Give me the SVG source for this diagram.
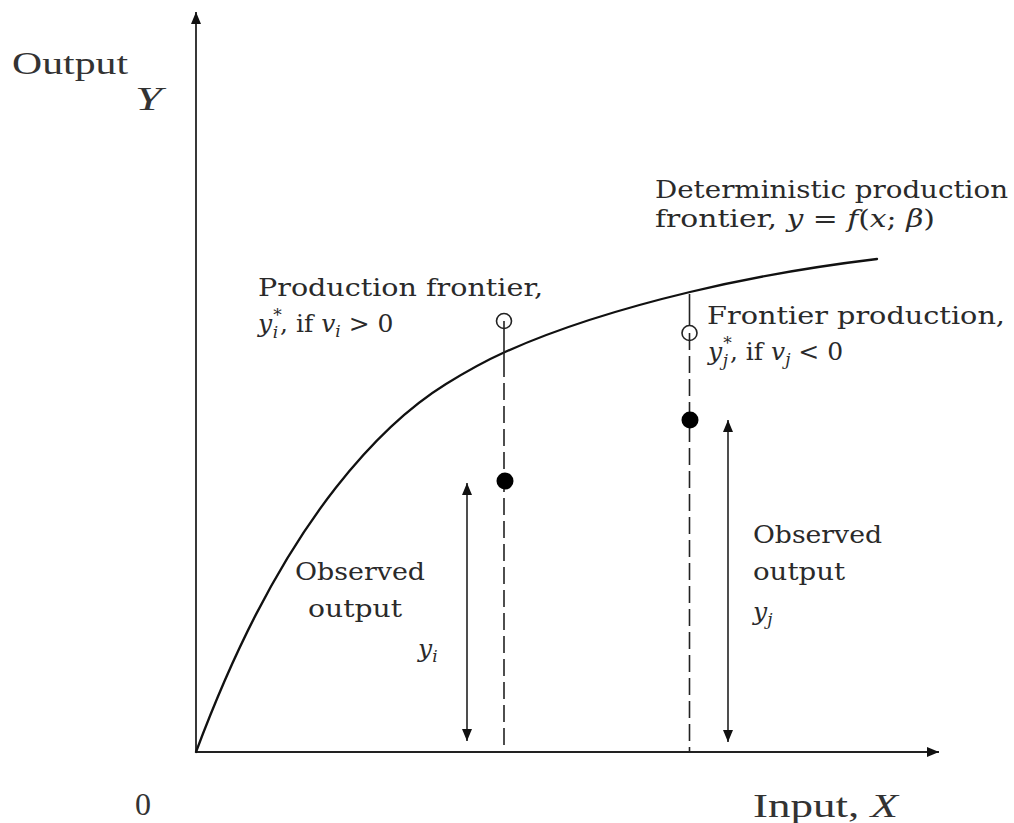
<svg xmlns="http://www.w3.org/2000/svg" width="1014" height="823" viewBox="0 0 1014 823">
<style>
.bg{fill:#ffffff}
.axis{stroke:#222;stroke-width:1.8;fill:none}
.curve{stroke:#111;stroke-width:2.3;fill:none;stroke-linejoin:round;stroke-linecap:round}
.dash{stroke:#222;stroke-width:1.6;fill:none;stroke-dasharray:17 6}
.solid{stroke:#222;stroke-width:1.6;fill:none}
.dbl{stroke:#222;stroke-width:1.6;fill:none}
.open{fill:#fff;stroke:#222;stroke-width:1.6}
.filled{fill:#000}
.tm{font-family:"Liberation Serif","Times New Roman",serif;fill:#333}
.cm{font-family:"DejaVu Serif","Liberation Serif",serif;font-size:25px;fill:#2a2a2a}
.mi{font-style:italic}
.sm{font-size:17px}
</style>
<defs>
<marker id="ah" viewBox="0 0 12 10" refX="12" refY="5" markerWidth="12" markerHeight="10" markerUnits="userSpaceOnUse" orient="auto-start-reverse">
<path d="M0,0 L12,5 L0,10 Z" fill="#111"/>
</marker>
</defs>
<rect class="bg" x="0" y="0" width="1014" height="823"/>

<g id="axes">
<line class="axis" x1="196" y1="752" x2="196" y2="12" marker-end="url(#ah)"/>
<line class="axis" x1="196" y1="752" x2="939" y2="752" marker-end="url(#ah)"/>
<text class="tm" x="12" y="74" font-size="31" textLength="116" lengthAdjust="spacingAndGlyphs">Output</text>
<text class="tm mi" x="135" y="110" font-size="34" textLength="27" lengthAdjust="spacingAndGlyphs">Y</text>
<text class="tm" x="135" y="815" font-size="32">0</text>
<text class="tm" x="753" y="817" font-size="33" textLength="145" lengthAdjust="spacingAndGlyphs">Input, <tspan class="mi">X</tspan></text>
</g>

<g id="frontier">
<path class="curve" d="M196,752 C216,698.5 236,653.3 256,614.4 C282.7,562.5 309.3,521.5 336,487.5 C372.7,440.8 409.3,406.7 446,384 C465.7,371.8 485.3,360.9 505,352 C566.7,324.3 628.3,306.8 690,292 C752.3,277 814.7,266.5 877,259"/>
<text class="cm" x="655" y="198" textLength="353" lengthAdjust="spacingAndGlyphs">Deterministic production</text>
<text class="cm" x="655" y="227" textLength="280" lengthAdjust="spacingAndGlyphs">frontier, <tspan class="mi">y</tspan> = <tspan class="mi">f</tspan>(<tspan class="mi">x</tspan>; <tspan class="mi">β</tspan>)</text>
</g>

<g id="connectors">
<line class="solid" x1="504" y1="322" x2="504" y2="360"/>
<line class="dash" x1="504" y1="360" x2="504" y2="752"/>
<line class="solid" x1="689.5" y1="294" x2="689.5" y2="333"/>
<line class="dash" x1="689.5" y1="333" x2="689.5" y2="752"/>
<line class="dbl" x1="467" y1="483" x2="467" y2="741" marker-start="url(#ah)" marker-end="url(#ah)"/>
<line class="dbl" x1="728" y1="420" x2="728" y2="742" marker-start="url(#ah)" marker-end="url(#ah)"/>
</g>

<g id="point-i">
<circle class="open" cx="504" cy="321" r="7.5"/>
<line class="solid" x1="504" y1="321" x2="504" y2="329"/>
<circle class="filled" cx="505" cy="481" r="8.5"/>
<text class="cm" x="258" y="296" textLength="285" lengthAdjust="spacingAndGlyphs">Production frontier,</text>
<text class="cm" x="258" y="332"><tspan class="mi">y</tspan><tspan class="sm" dx="1" dy="-11">*</tspan><tspan class="sm mi" dx="-9" dy="17">i</tspan><tspan dx="2" dy="-6">, if </tspan><tspan class="mi">v</tspan><tspan class="sm mi" dy="5">i</tspan><tspan dy="-5"> &gt; 0</tspan></text>
<text class="cm" x="295" y="580" textLength="130" lengthAdjust="spacingAndGlyphs">Observed</text>
<text class="cm" x="308" y="617" textLength="94" lengthAdjust="spacingAndGlyphs">output</text>
<text class="cm" x="418" y="657"><tspan class="mi">y</tspan><tspan class="sm mi" dy="5">i</tspan></text>
</g>

<g id="point-j">
<circle class="open" cx="689.5" cy="333" r="7.5"/>
<line class="solid" x1="689.5" y1="333" x2="689.5" y2="341"/>
<circle class="filled" cx="690" cy="420" r="8.5"/>
<text class="cm" x="707" y="324" textLength="298" lengthAdjust="spacingAndGlyphs">Frontier production,</text>
<text class="cm" x="708" y="360"><tspan class="mi">y</tspan><tspan class="sm" dx="1" dy="-11">*</tspan><tspan class="sm mi" dx="-9" dy="17">j</tspan><tspan dx="2" dy="-6">, if </tspan><tspan class="mi">v</tspan><tspan class="sm mi" dy="5">j</tspan><tspan dy="-5"> &lt; 0</tspan></text>
<text class="cm" x="753" y="543" textLength="129" lengthAdjust="spacingAndGlyphs">Observed</text>
<text class="cm" x="753" y="580" textLength="92" lengthAdjust="spacingAndGlyphs">output</text>
<text class="cm" x="753" y="620"><tspan class="mi">y</tspan><tspan class="sm mi" dy="5">j</tspan></text>
</g>
</svg>
